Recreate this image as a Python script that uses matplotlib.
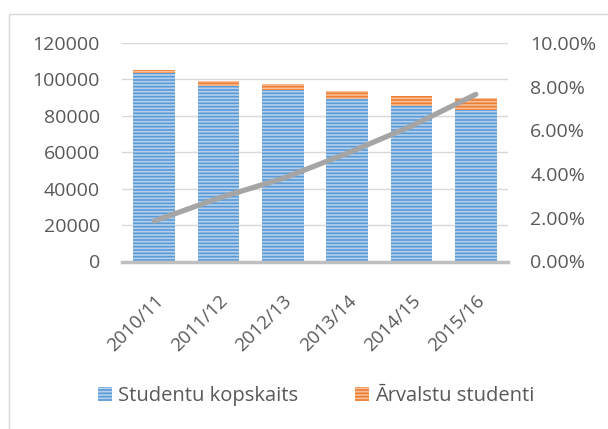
import matplotlib
matplotlib.use("Agg")
import matplotlib.pyplot as plt
from matplotlib.patches import Rectangle
from matplotlib.ticker import FuncFormatter

years = ["2010/11", "2011/12", "2012/13", "2013/14", "2014/15", "2015/16"]
kopskaits = [103700, 96300, 94000, 89000, 85200, 83000]
arvalstu = [1600, 2800, 3700, 4600, 5700, 7000]
share = [0.0185, 0.029, 0.038, 0.0495, 0.062, 0.0765]

plt.rcParams['font.family'] = ['Open Sans', 'DejaVu Sans']
plt.rcParams['hatch.linewidth'] = 1.2
txt = '#595959'
fs = 14

fig = plt.figure(figsize=(6.08, 4.29), dpi=100)
ax = fig.add_axes([122/608, 1-261.5/429, 386/608, 218.5/429])
ax2 = ax.twinx()

x = list(range(len(years)))
b1 = ax.bar(x, kopskaits, width=0.65, color='#5b9bd5', hatch='-----',
            edgecolor='#b4d0ee', linewidth=0, label='Studentu kopskaits', zorder=2)
b2 = ax.bar(x, arvalstu, bottom=kopskaits, width=0.65, color='#ed7d31', hatch='-----',
            edgecolor='#f6bf99', linewidth=0, label='Ārvalstu studenti', zorder=2)
ax2.plot(x, share, color='#a5a5a5', lw=3.8, solid_capstyle='round', zorder=3)

ax.set_xlim(-0.5, 5.5)
ax.set_ylim(0, 120000)
ax.set_yticks(range(0, 120001, 20000))
ax2.set_ylim(0, 0.10)
ax2.set_yticks([0, 0.02, 0.04, 0.06, 0.08, 0.10])
ax2.yaxis.set_major_formatter(FuncFormatter(lambda v, p: f"{v*100:.2f}%"))

ax.grid(axis='y', color='#d9d9d9', lw=1, zorder=0)
ax.set_axisbelow(True)
for a in (ax, ax2):
    for s in a.spines.values():
        s.set_visible(False)
ax.spines['bottom'].set_visible(True)
ax.spines['bottom'].set_color('#bfbfbf')
ax.spines['bottom'].set_linewidth(2.5)

ax.tick_params(axis='y', length=0, pad=16, labelsize=fs, labelcolor=txt)
ax2.tick_params(axis='y', length=0, pad=16, labelsize=fs, labelcolor=txt)
ax.set_xticks(x)
ax.set_xticklabels(years, rotation=45, ha='right', rotation_mode='anchor')
ax.tick_params(axis='x', length=0, pad=22, labelsize=13.5, labelcolor=txt)

fig.legend(handles=[b1, b2], loc='center', bbox_to_anchor=(316/608, 1-396/429),
           ncol=2, frameon=False, fontsize=14.5, labelcolor=txt,
           handlelength=0.7, handleheight=0.7, handletextpad=0.3, columnspacing=2.8)

fig.add_artist(Rectangle((9/608, -0.1), 1.2, 1 - 14/429 + 0.1, transform=fig.transFigure,
                         fill=False, edgecolor='#d9d9d9', lw=1))

fig.savefig("out.png", dpi=100)
